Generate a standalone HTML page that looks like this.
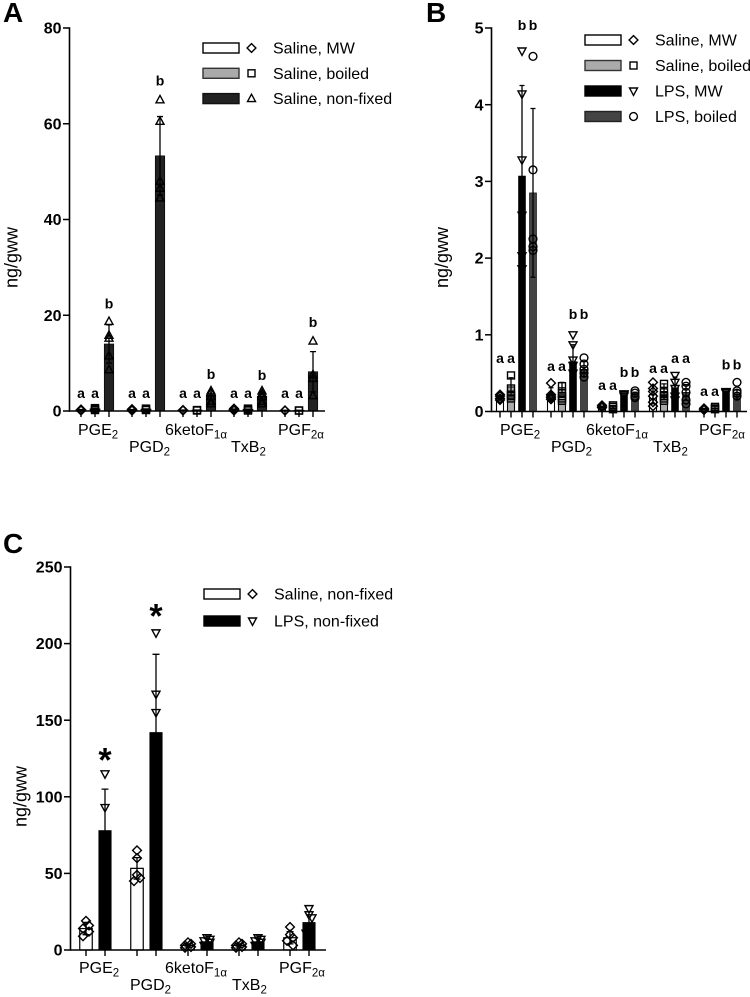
<!DOCTYPE html>
<html lang="en">
<head>
<meta charset="utf-8">
<title>Prostaglandin levels by fixation method</title>
<style>
html,body{margin:0;padding:0;background:#fff;width:750px;height:997px;overflow:hidden}
svg{display:block;font-family:"Liberation Sans",sans-serif}
</style>
</head>
<body>
<svg id="figure" width="750" height="997" viewBox="0 0 750 997" xmlns="http://www.w3.org/2000/svg"></svg>
<script>
// Shared categories
const categoryNames = ['PGE', 'PGD', '6ketoF', 'TxB', 'PGF'];
const categorySubs = ['2', '2', '1\u03b1', '2', '2\u03b1'];

// Panel A
const aTicks = [0, 20, 40, 60, 80];
const aSalineMwMeans = [0.2, 0.2, 0.15, 0.3, 0.1];
const aSalineMwErrors = [0.1, 0.1, 0.05, 0.1, 0.05];
const aSalineMwPoints = [[0.3, 0.2, 0.1], [0.4, 0.2, 0.1], [0.2, 0.1], [0.5, 0.3, 0.1], [0.1, 0.1]];
const aSalineBoiledMeans = [0.4, 0.35, 0.15, 0.3, 0.1];
const aSalineBoiledErrors = [0.2, 0.1, 0.05, 0.1, 0.05];
const aSalineBoiledPoints = [[0.6, 0.4, 0.2], [0.5, 0.3, 0.2], [0.2, 0.1], [0.5, 0.3, 0.1], [0.1, 0.1]];
const aNonFixedMeans = [14, 53.3, 3.3, 3.1, 8.2];
const aNonFixedErrors = [4, 8.2, 0.9, 0.9, 4.2];
const aNonFixedPoints = [[18.7, 15.8, 15.2, 11.5, 8.6], [65, 60.5, 48, 46.5, 44.5], [4.2, 3.8, 3, 2, 1.5], [4.2, 3.6, 3, 2, 1.5], [14.6, 7.6, 6.8, 3.2]];
const aSalineMwLetterLevels = [3.75, 3.75, 3.75, 3.75, 3.75];
const aSalineBoiledLetterLevels = [3.75, 3.75, 3.75, 3.75, 3.75];
const aNonFixedLetterLevels = [22.5, 69, 7.7, 7.5, 18.6];

// Panel B
const bTicks = [0, 1, 2, 3, 4, 5];
const bSalineMwMeans = [0.18, 0.22, 0.06, 0.22, 0.03];
const bSalineMwErrors = [0.03, 0.09, 0.01, 0.12, 0.01];
const bSalineMwPoints = [[0.22, 0.2, 0.17, 0.15], [0.37, 0.22, 0.2, 0.18, 0.16], [0.08, 0.06, 0.05], [0.38, 0.3, 0.26, 0.2, 0.12, 0.07], [0.04, 0.03, 0.02]];
const bSalineBoiledMeans = [0.32, 0.31, 0.06, 0.26, 0.04];
const bSalineBoiledErrors = [0.12, 0.07, 0.02, 0.1, 0.02];
const bSalineBoiledPoints = [[0.47, 0.3, 0.22, 0.2, 0.17], [0.33, 0.24, 0.2, 0.17, 0.14], [0.08, 0.06, 0.03], [0.36, 0.25, 0.2, 0.17, 0.14], [0.06, 0.04, 0.03]];
const bLpsMwMeans = [3.07, 0.65, 0.22, 0.31, 0.25];
const bLpsMwErrors = [1.18, 0.22, 0.02, 0.14, 0.01];
const bLpsMwPoints = [[4.7, 4.14, 3.28, 2.56, 2.03, 1.86], [1.0, 0.87, 0.67, 0.6, 0.5], [0.23, 0.22, 0.2], [0.47, 0.38, 0.3, 0.2, 0.15], [0.26, 0.25, 0.24]];
const bLpsBoiledMeans = [2.85, 0.55, 0.22, 0.25, 0.22];
const bLpsBoiledErrors = [1.1, 0.1, 0.03, 0.1, 0.06];
const bLpsBoiledPoints = [[4.63, 3.15, 2.25, 2.15, 2.1], [0.7, 0.62, 0.55, 0.5, 0.45], [0.27, 0.24, 0.2, 0.18], [0.38, 0.33, 0.25, 0.15, 0.1], [0.38, 0.27, 0.24, 0.2]];
const bSalineMwLetterLevels = [0.7, 0.59, 0.345, 0.57, 0.27];
const bSalineBoiledLetterLevels = [0.7, 0.59, 0.345, 0.57, 0.27];
const bLpsMwLetterLevels = [5.04, 1.27, 0.515, 0.7, 0.61];
const bLpsBoiledLetterLevels = [5.04, 1.27, 0.515, 0.7, 0.61];

// Panel C
const cTicks = [0, 50, 100, 150, 200, 250];
const cSalineMeans = [14, 53.3, 3, 3, 8];
const cSalineErrors = [4, 7, 1, 1, 4];
const cSalinePoints = [[19, 16, 14, 12, 9], [65, 60, 49, 47, 45], [5, 4, 3, 2, 1.5], [5, 4, 3, 2, 1.5], [15, 10, 8, 6, 3]];
const cLpsMeans = [78, 142, 5.5, 5.5, 18];
const cLpsErrors = [27, 51, 2, 2, 7];
const cLpsPoints = [[115, 93, 73, 65, 44], [207, 167, 155, 100, 82], [8, 7, 6, 5, 3], [8, 7, 6, 5, 3], [27, 23, 21, 14, 11]];
const cStarGroups = [0, 1];
const cStarLevels = [116, 210];

const SVGNS = 'http://www.w3.org/2000/svg';
const figure = document.getElementById('figure');

function make(tag, attrs, parent) {
  const node = document.createElementNS(SVGNS, tag);
  for (const k in attrs) node.setAttribute(k, attrs[k]);
  (parent || figure).appendChild(node);
  return node;
}

function drawSymbol(parent, kind, x, y) {
  const style = { fill: 'none', stroke: '#000', 'stroke-width': 1.4 };
  let el;
  if (kind === 'circle') {
    el = make('circle', Object.assign({ cx: x, cy: y, r: 3.9 }, style), parent);
  } else if (kind === 'square') {
    el = make('rect', Object.assign({ x: x - 3.5, y: y - 3.5, width: 7, height: 7 }, style), parent);
  } else if (kind === 'diamond') {
    el = make('polygon', Object.assign({ points: [x, y - 4.4, x + 4.4, y, x, y + 4.4, x - 4.4, y].join(' ') }, style), parent);
  } else if (kind === 'up') {
    el = make('polygon', Object.assign({ points: [x, y - 4.4, x + 4, y + 3, x - 4, y + 3].join(' ') }, style), parent);
  } else {
    el = make('polygon', Object.assign({ points: [x - 4, y - 3, x + 4, y - 3, x, y + 4.4].join(' ') }, style), parent);
  }
  return el;
}

function drawPanel(p) {
  const g = make('g', {});
  
  
  const yScale = v => p.y0 - (v / p.max) * (p.y0 - p.yTop);
  const xScale = (group, s) => p.x0 + group * p.groupStep + s * p.barStep;

  // series
  p.series.forEach((s, si) => {
    const sg = make('g', {}, g);
    
    
    s.means.forEach((m, gi) => {
      const x = xScale(gi, si);
      const top = yScale(m);
      const bar = make('rect', { x: x - p.barW / 2, y: top, width: p.barW, height: Math.max(0, p.y0 - top), fill: s.fill, stroke: '#000', 'stroke-width': s.barStroke }, sg);
      
      
      const e = s.errors[gi];
      const hi = yScale(m + e);
      const lo = yScale(Math.max(0, m - e));
      const err = make('path', { d: 'M' + x + ' ' + lo + 'V' + hi + 'M' + (x - p.cap) + ' ' + hi + 'H' + (x + p.cap) + 'M' + (x - p.cap) + ' ' + lo + 'H' + (x + p.cap), fill: 'none', stroke: '#000', 'stroke-width': 1.3 }, sg);
      
      
      let prevY = null;
      let side = 1;
      s.points[gi].forEach(v => {
        const py = yScale(v);
        let dx = 0;
        if (p.jitter && prevY !== null && Math.abs(py - prevY) < 5) { dx = side * p.jitter; side = -side; }
        prevY = py;
        const pt = drawSymbol(sg, s.symbol, x + dx, py);
        
        
      });
      if (s.letters) {
        const t = make('text', { x: x, y: yScale(s.letterLevels[gi]) + 5, 'text-anchor': 'middle', 'font-size': 14, 'font-weight': 'bold', fill: '#000' }, sg);
        t.textContent = s.letters[gi];
        
        
      }
    });
  });

  // axes
  const yAxis = make('line', { x1: p.axisX, x2: p.axisX, y1: p.yTop - 0.75, y2: p.y0 + 0.75, stroke: '#000', 'stroke-width': 1.6 }, g);
  
  
  const xAxis = make('line', { x1: p.axisX, x2: p.axisEnd, y1: p.y0, y2: p.y0, stroke: '#000', 'stroke-width': 1.6 }, g);
  
  
  p.ticks.forEach(v => {
    const y = yScale(v);
    const tick = make('line', { x1: p.axisX - 6.5, x2: p.axisX, y1: y, y2: y, stroke: '#000', 'stroke-width': 1.5 }, g);
    
    
    const label = make('text', { x: p.axisX - 8, y: y + 5.6, 'text-anchor': 'end', 'font-size': 16, 'font-weight': 'bold', fill: '#000' }, g);
    label.textContent = v;
    
    
  });
  categoryNames.forEach((c, gi) => {
    p.series.forEach((s, si) => {
      const x = xScale(gi, si);
      const tick = make('line', { x1: x, x2: x, y1: p.y0, y2: p.y0 + 6, stroke: '#000', 'stroke-width': 1.4 }, g);
      
      
    });
    const lx = p.labelX + gi * p.groupStep + (gi === 2 ? p.ketoShift : 0) + (gi === 4 ? p.pgfShift : 0);
    const ly = gi % 2 ? p.labelLow : p.labelHigh;
    const label = make('text', { x: lx, y: ly, 'font-size': 16, fill: '#000' }, g);
    
    
    const main = make('tspan', {}, label);
    main.textContent = c;
    const sub = make('tspan', { dy: 3.5, 'font-size': 11.5 }, label);
    sub.textContent = categorySubs[gi];
  });

  const ty = make('text', { x: p.titleX, y: p.titleY, transform: 'rotate(-90 ' + p.titleX + ' ' + p.titleY + ')', 'text-anchor': 'middle', 'font-size': 18, fill: '#000' }, g);
  ty.textContent = 'ng/gww';
  
  

  const letter = make('text', { x: p.letterX, y: p.letterY, 'font-size': 28, 'font-weight': 'bold', fill: '#000' }, g);
  letter.textContent = p.letter;
  
  

  // legend
  p.series.forEach((s, si) => {
    const y = p.legendY + si * p.legendStep;
    const swatch = make('rect', { x: p.legendX, y: y - 5, width: 36, height: 10, fill: s.fill, stroke: s.legendStroke, 'stroke-width': 1.4 }, g);
    
    
    const sym = drawSymbol(g, s.symbol, p.legendX + 48.5, y);
    
    
    const t = make('text', { x: p.legendX + 70, y: y + 5.5, 'font-size': 16, fill: '#000' }, g);
    t.textContent = s.label;
    
    
  });
  return yScale;
}

const lettersA = ['a', 'a', 'a', 'a', 'a'];
const lettersB = ['b', 'b', 'b', 'b', 'b'];

drawPanel({
  name: 'panel-a', letter: 'A', letterX: 3, letterY: 22,
  axisX: 69.5, axisEnd: 325, yTop: 28, y0: 411, max: 80, ticks: aTicks,
  x0: 81, groupStep: 51, barStep: 14, barW: 9.5, cap: 3, jitter: 0,
  labelX: 78, labelHigh: 435, labelLow: 452, ketoShift: -15, pgfShift: -4,
  titleX: 17.5, titleY: 257.5,
  legendX: 203, legendY: 48, legendStep: 25.3,
  series: [
    { key: 'saline-mw', label: 'Saline, MW', symbol: 'diamond', fill: '#fff', barStroke: 1.2, legendStroke: '#000', means: aSalineMwMeans, errors: aSalineMwErrors, points: aSalineMwPoints, letters: lettersA, letterLevels: aSalineMwLetterLevels },
    { key: 'saline-boiled', label: 'Saline, boiled', symbol: 'square', fill: '#aaa', barStroke: 1.2, legendStroke: '#333', means: aSalineBoiledMeans, errors: aSalineBoiledErrors, points: aSalineBoiledPoints, letters: lettersA, letterLevels: aSalineBoiledLetterLevels },
    { key: 'saline-non-fixed', label: 'Saline, non-fixed', symbol: 'up', fill: '#222', barStroke: 0.6, legendStroke: '#111', means: aNonFixedMeans, errors: aNonFixedErrors, points: aNonFixedPoints, letters: lettersB, letterLevels: aNonFixedLetterLevels }
  ]
});

drawPanel({
  name: 'panel-b', letter: 'B', letterX: 426, letterY: 22,
  axisX: 491.5, axisEnd: 747, yTop: 28, y0: 411.5, max: 5, ticks: bTicks,
  x0: 500, groupStep: 51, barStep: 11, barW: 7, cap: 2.5, jitter: 0,
  labelX: 500, labelHigh: 435, labelLow: 452, ketoShift: -16, pgfShift: -5,
  titleX: 448, titleY: 257.5,
  legendX: 585, legendY: 40, legendStep: 25.5,
  series: [
    { key: 'saline-mw', label: 'Saline, MW', symbol: 'diamond', fill: '#fff', barStroke: 1.1, legendStroke: '#000', means: bSalineMwMeans, errors: bSalineMwErrors, points: bSalineMwPoints, letters: lettersA, letterLevels: bSalineMwLetterLevels },
    { key: 'saline-boiled', label: 'Saline, boiled', symbol: 'square', fill: '#aaa', barStroke: 1.1, legendStroke: '#333', means: bSalineBoiledMeans, errors: bSalineBoiledErrors, points: bSalineBoiledPoints, letters: lettersA, letterLevels: bSalineBoiledLetterLevels },
    { key: 'lps-mw', label: 'LPS, MW', symbol: 'down', fill: '#000', barStroke: 0.6, legendStroke: '#000', means: bLpsMwMeans, errors: bLpsMwErrors, points: bLpsMwPoints, letters: ['b', 'b', 'b', 'a', 'b'], letterLevels: bLpsMwLetterLevels },
    { key: 'lps-boiled', label: 'LPS, boiled', symbol: 'circle', fill: '#444', barStroke: 0.6, legendStroke: '#222', means: bLpsBoiledMeans, errors: bLpsBoiledErrors, points: bLpsBoiledPoints, letters: ['b', 'b', 'b', 'a', 'b'], letterLevels: bLpsBoiledLetterLevels }
  ]
});

const cPanel = {
  name: 'panel-c', letter: 'C', letterX: 3, letterY: 553,
  axisX: 70.5, axisEnd: 326, yTop: 567, y0: 950, max: 250, ticks: cTicks,
  x0: 86, groupStep: 51, barStep: 19, barW: 12.5, cap: 3.5, jitter: 3,
  labelX: 79, labelHigh: 973, labelLow: 990, ketoShift: -16, pgfShift: -4,
  titleX: 26.5, titleY: 796.5,
  legendX: 204, legendY: 594, legendStep: 27,
  series: [
    { key: 'saline-non-fixed', label: 'Saline, non-fixed', symbol: 'diamond', fill: '#fff', barStroke: 1.2, legendStroke: '#000', means: cSalineMeans, errors: cSalineErrors, points: cSalinePoints },
    { key: 'lps-non-fixed', label: 'LPS, non-fixed', symbol: 'down', fill: '#000', barStroke: 0.6, legendStroke: '#000', means: cLpsMeans, errors: cLpsErrors, points: cLpsPoints }
  ]
};
const cY = drawPanel(cPanel);
cStarGroups.forEach((gi, i) => {
  const star = make('text', { x: cPanel.x0 + gi * cPanel.groupStep + cPanel.barStep, y: cY(cStarLevels[i]) - 1, 'text-anchor': 'middle', 'font-size': 34, 'font-weight': 'bold', fill: '#000' });
  star.textContent = '*';
  
  
});
</script>
</body>
</html>
